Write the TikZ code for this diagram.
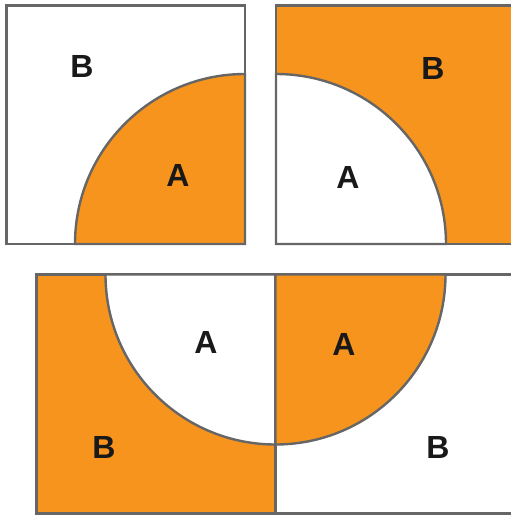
\documentclass[tikz,border=0pt]{standalone}
\usepackage{fontspec}
\setmainfont{Liberation Sans}
\definecolor{org}{HTML}{F7941E}
\definecolor{edge}{HTML}{666666}
\begin{document}
\begin{tikzpicture}[x=1pt,y=-1pt,
  shapeline/.style={draw=edge,line width=2.4pt},
  lbl/.style={font=\bfseries\fontsize{32}{32}\selectfont,text=black!90,inner sep=0pt}]
\useasboundingbox (0,0) rectangle (511,515);
\clip (0,0) rectangle (511,515);
% top-left
\draw[shapeline,fill=white] (6.5,5.5) rectangle (245,244);
\draw[shapeline,fill=org] (75,244) arc[start angle=180,end angle=270,radius=170] -- (245,244) -- cycle;
% top-right
\draw[shapeline,fill=org] (276,5.5) rectangle (516,244);
\draw[shapeline,fill=white] (446,244) arc[start angle=0,end angle=-90,radius=170] -- (276,244) -- cycle;
% bottom-left
\draw[shapeline,fill=org] (36.5,274.5) rectangle (275.5,513.5);
\draw[shapeline,fill=white] (105.5,274.5) arc[start angle=180,end angle=90,radius=170] -- (275.5,274.5) -- cycle;
% bottom-right
\draw[shapeline,fill=white] (275.5,274.5) rectangle (516,513.5);
\draw[shapeline,fill=org] (445.5,274.5) arc[start angle=0,end angle=90,radius=170] -- (275.5,274.5) -- cycle;
% labels
\node[lbl] (b1) at (82,66) {B};
\node[lbl] (a1) at (178,175) {A};
\node[lbl] (b2) at (433,68) {B};
\node[lbl] (a2) at (348,177) {A};
\node[lbl] (a3) at (206,342) {A};
\node[lbl] (a4) at (344,344) {A};
\node[lbl] (b3) at (104,447) {B};
\node[lbl] (b4) at (438,447) {B};
\end{tikzpicture}
\end{document}
